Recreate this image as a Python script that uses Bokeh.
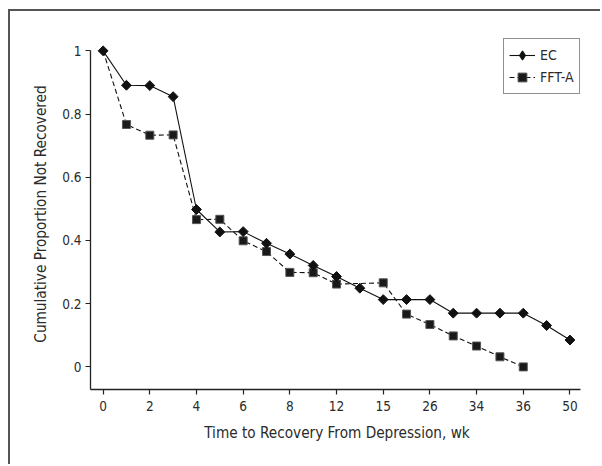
import numpy as np
from bokeh.plotting import figure
from bokeh.models import FixedTicker, Range1d, Legend, LegendItem
from bokeh.embed import file_html
from bokeh.resources import INLINE

# ---- data -------------------------------------------------------------
tick_labels = ["0", "2", "4", "6", "8", "12", "15", "26", "34", "36", "50"]
ec_x = list(range(21))
ec_y = [1.0, 0.891, 0.890, 0.855, 0.498, 0.427, 0.428, 0.391, 0.357, 0.321,
        0.286, 0.249, 0.213, 0.213, 0.213, 0.170, 0.170, 0.170, 0.170, 0.131, 0.085]
fft_x = [0, 1, 2, 3, 4, 5, 6, 7, 8, 9, 10, 12, 13, 14, 15, 16, 17, 18]
fft_y = [1.0, 0.767, 0.733, 0.734, 0.466, 0.467, 0.399, 0.365, 0.299, 0.298,
         0.262, 0.266, 0.167, 0.134, 0.098, 0.066, 0.032, 0.0]

FONT = "DejaVu Sans Condensed"
TXT = "#2b2b2b"

p = figure(width=592, height=455, output_backend="svg", toolbar_location=None,
           x_range=Range1d(-0.54, 20.58), y_range=Range1d(-0.0715, 1.039),
           min_border_left=80, min_border_right=19, min_border_top=27, min_border_bottom=77)
p.styles = {"border-left": "2px solid #555", "border-top": "2px solid #555",
            "margin-left": "8px", "margin-top": "9px"}
p.outline_line_color = None
p.grid.visible = False
p.background_fill_color = "white"
p.border_fill_color = "white"

ec_line = p.line(ec_x, ec_y, line_color="#111", line_width=1.1)
fft_line = p.line(fft_x, fft_y, line_color="#111", line_width=1.1, line_dash="5 3")
fft_pts = p.scatter(fft_x[1:], fft_y[1:], marker="square", size=8,
                    fill_color="#1a1a1a", line_color="#555", line_width=1)
ec_pts = p.scatter(ec_x, ec_y, marker="square", angle=np.pi / 4, size=7,
                   fill_color="#111", line_color="#111", line_width=1)
# legend-only key for EC (diamond shape; the plot itself uses rotated squares)
ec_key = p.scatter(x=[float("nan")], y=[float("nan")], marker="diamond", size=10,
                   fill_color="#111", line_color="#111", line_width=1.2)

# axes
xa = p.xaxis[0]
xa.ticker = FixedTicker(ticks=[2 * i for i in range(len(tick_labels))], minor_ticks=[])
xa.major_label_overrides = {2 * i: lab for i, lab in enumerate(tick_labels)}
xa.bounds = (-0.54, 20.45)
ya = p.yaxis[0]
ya.ticker = FixedTicker(ticks=[0, 0.2, 0.4, 0.6, 0.8, 1.0], minor_ticks=[])
ya.major_label_overrides = {0: "0", 0.2: "0.2", 0.4: "0.4", 0.6: "0.6", 0.8: "0.8", 1.0: "1"}
ya.bounds = (-0.0715, 1.0)
for ax in (xa, ya):
    ax.axis_line_color = "#222"
    ax.axis_line_width = 1.3
    ax.major_tick_line_color = "#222"
    ax.major_tick_line_width = 1.2
    ax.major_tick_out = 5
    ax.major_tick_in = 0
    ax.minor_tick_line_color = None
    ax.major_label_text_font = FONT
    ax.major_label_text_font_size = "13.5px"
    ax.major_label_text_color = TXT
    ax.axis_label_text_font = FONT
    ax.axis_label_text_font_size = "15.2px"
    ax.axis_label_text_font_style = "normal"
    ax.axis_label_text_color = TXT
xa.axis_label = "Time to Recovery From Depression, wk"
ya.axis_label = "Cumulative Proportion Not Recovered"
xa.major_label_standoff = 6
xa.axis_label_standoff = 10
ya.major_label_standoff = 4
ya.axis_label_standoff = 9

legend = Legend(items=[LegendItem(label="EC", renderers=[ec_line, ec_key]),
                       LegendItem(label="FFT-A", renderers=[fft_line, fft_pts])],
                location=(413, 295))
legend.border_line_color = "#222"
legend.border_line_width = 1.2
legend.background_fill_alpha = 1
legend.padding = 5
legend.spacing = -2
legend.margin = 0
legend.glyph_width = 26
legend.glyph_height = 22
legend.label_height = 20
legend.label_standoff = 5
legend.label_text_font = FONT
legend.label_text_font_size = "14px"
legend.label_text_color = TXT
p.add_layout(legend)

open("out.html", "w").write(file_html(p, INLINE))
